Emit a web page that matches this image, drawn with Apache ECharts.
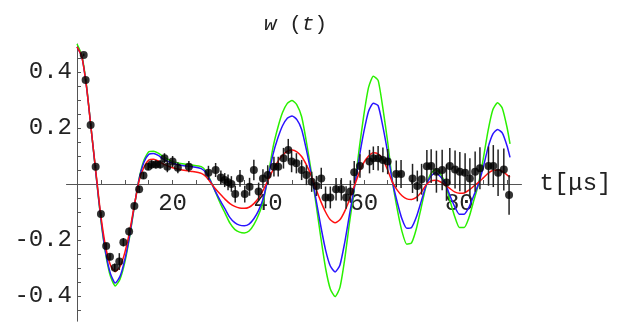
<!DOCTYPE html>
<html>
<head>
<meta charset="utf-8">
<script src="https://cdn.jsdelivr.net/npm/echarts@6/dist/echarts.min.js"></script>
<style>
  html, body { margin: 0; padding: 0; background: #fff; }
  #main { width: 623px; height: 322px; }
</style>
</head>
<body>
<div id="main"></div>
<script>
// curve samples (t in microseconds)
var curveT = [0,1,2,3,4,5,6,7,8,9,
  10,11,12,13,14,15,16,17,18,20,
  22,24,26,27,28,29,30,31,32,33,
  34,35,36,37,38,39,40,41,42,43,
  44,45,46,47,48,49,50,51,52,53,
  54,55,56,57,58,59,60,61,62,63,
  64,65,66,67,68,69,70,71,72,73,
  74,75,76,77,78,79,80,81,82,83,
  84,85,86,87,88,89,90,90.6];

var greenW = [0.50,0.46,0.35,0.19,0.03,-0.13,-0.25,-0.33,-0.364,-0.34,
  -0.28,-0.19,-0.08,0.02,0.085,0.115,0.117,0.11,0.098,0.08,
  0.072,0.068,0.062,0.045,0.01,-0.03,-0.07,-0.105,-0.14,-0.162,
  -0.172,-0.175,-0.168,-0.145,-0.11,-0.06,0.03,0.13,0.2,0.255,
  0.288,0.298,0.283,0.24,0.15,0.045,-0.07,-0.19,-0.3,-0.375,
  -0.402,-0.37,-0.27,-0.14,-0.02,0.12,0.245,0.345,0.385,0.37,
  0.27,0.15,0.01,-0.09,-0.17,-0.215,-0.21,-0.16,-0.085,-0.01,
  0.036,0.052,0.036,0.005,-0.057,-0.115,-0.155,-0.155,-0.12,-0.06,
  0.0,0.09,0.19,0.265,0.29,0.27,0.2,0.143];

var blueW = [0.49,0.455,0.345,0.19,0.03,-0.125,-0.245,-0.32,-0.354,-0.33,
  -0.27,-0.185,-0.078,0.018,0.078,0.106,0.109,0.102,0.09,0.074,
  0.066,0.062,0.055,0.04,0.008,-0.028,-0.06,-0.09,-0.12,-0.138,
  -0.147,-0.149,-0.143,-0.124,-0.094,-0.05,0.025,0.105,0.163,0.208,
  0.235,0.243,0.23,0.195,0.122,0.036,-0.055,-0.15,-0.235,-0.293,
  -0.314,-0.29,-0.21,-0.11,-0.015,0.09,0.185,0.26,0.288,0.28,
  0.205,0.112,0.008,-0.065,-0.125,-0.158,-0.155,-0.118,-0.063,-0.007,
  0.027,0.04,0.027,0.004,-0.04,-0.08,-0.108,-0.108,-0.083,-0.042,
  0.0,0.06,0.13,0.178,0.195,0.182,0.135,0.095];

var redW = [0.49,0.455,0.345,0.19,0.035,-0.115,-0.225,-0.29,-0.313,-0.295,
  -0.245,-0.17,-0.075,0.012,0.06,0.085,0.088,0.082,0.072,0.058,
  0.05,0.045,0.038,0.026,0.004,-0.018,-0.037,-0.055,-0.07,-0.08,
  -0.086,-0.087,-0.083,-0.07,-0.05,-0.02,0.015,0.05,0.08,0.103,
  0.117,0.121,0.115,0.098,0.068,0.03,-0.018,-0.062,-0.1,-0.128,
  -0.138,-0.128,-0.098,-0.056,-0.008,0.038,0.076,0.1,0.112,0.108,
  0.088,0.05,0.006,-0.022,-0.042,-0.053,-0.055,-0.048,-0.03,-0.004,
  0.01,0.013,0.008,-0.003,-0.016,-0.028,-0.033,-0.032,-0.022,-0.008,
  0.006,0.022,0.038,0.048,0.05,0.045,0.032,0.024];

// measured points with error bars
var ptT = [1.4,1.8,2.85,3.9,5.0, 6.1,6.9,7.9,8.85,9.7,
  10.9,12.0,13.0,13.9,14.9, 15.6,16.5,17.4,18.3,18.9,
  20.0,21.1,23.4,27.5,29.0, 30.1,30.9,31.6,32.3,33.1,
  34.1,35.1,36.1,37.0,38.0, 38.9,39.9,41.2,42.1,43.2,
  44.2,44.9,45.9,47.0,48.0, 49.1,50.1,51.1,52.0,53.0,
  54.2,55.3,56.3,57.2,58.0, 59.2,61.2,62.0,63.0,64.0,
  65.0,66.8,67.8,70.2,71.2, 72.1,73.2,74.1,75.2,76.4,
  77.3,78.0,79.1,80.1,81.2, 82.2,83.3,84.3,86.1,87.1,
  88.1,89.3,90.4];

var ptW = [0.461,0.371,0.211,0.062,-0.107, -0.221,-0.26,-0.299,-0.277,-0.208,
  -0.17,-0.079,-0.019,0.03,0.062, 0.07,0.07,0.07,0.092,0.062,
  0.08,0.058,0.062,0.04,0.05, 0.023,0.014,0.006,0.0,-0.036,
  0.02,-0.036,-0.01,0.05,-0.027, 0.02,0.032,0.062,0.062,0.092,
  0.121,0.08,0.074,0.05,0.032, 0.008,-0.007,0.02,-0.048,-0.048,
  -0.019,-0.019,-0.048,-0.027,0.042, 0.064,0.08,0.092,0.092,0.086,
  0.08,0.036,0.036,0.02,-0.007, 0.017,0.063,0.064,0.044,0.05,
  0.005,0.064,0.052,0.044,0.04, 0.02,0.044,0.056,0.064,0.064,
  0.04,0.052,-0.039];

var ptErr = [0.005,0.005,0.006,0.006,0.008, 0.01,0.012,0.015,0.03,0.015,
  0.015,0.012,0.012,0.012,0.012, 0.015,0.015,0.015,0.018,0.02,
  0.02,0.02,0.02,0.025,0.025, 0.025,0.025,0.028,0.028,0.03,
  0.03,0.03,0.032,0.037,0.032, 0.033,0.035,0.035,0.035,0.037,
  0.04,0.038,0.036,0.036,0.036, 0.036,0.036,0.038,0.039,0.039,
  0.04,0.04,0.04,0.04,0.04, 0.042,0.042,0.042,0.044,0.044,
  0.045,0.048,0.05,0.052,0.055, 0.055,0.058,0.06,0.075,0.072,
  0.065,0.065,0.068,0.07,0.07, 0.072,0.072,0.075,0.07,0.075,
  0.083,0.075,0.071];

var xTicks = [5,10,15,20,25,30,35,40,45,50,55,60,65,70,75,80,85,90];
var xLabels = [20,40,60,80];
var yTicks = [-0.45,-0.4,-0.35,-0.3,-0.25,-0.2,-0.15,-0.1,-0.05,0.05,0.1,0.15,0.2,0.25,0.3,0.35,0.4,0.45];
var yLabels = [-0.4,-0.2,0.2,0.4];

var mono = 'Liberation Mono';
var axisColor = '#555';

function pairs(xs, ys) {
  return xs.map(function (x, i) { return [x, ys[i]]; });
}

var myChart = echarts.init(document.getElementById('main'));

// axes cross at the origin: shift them there with offset
var gridLeft = 66.5, gridTop = 44, gridW = 455, gridH = 277.2;
var xMin = -2.2, xMax = 93, yMin = -0.49, yMax = 0.5;
var yAxisOffset = -(0 - xMin) / (xMax - xMin) * gridW;
var xAxisOffset = -(0 - yMin) / (yMax - yMin) * gridH;

var option = {
  animation: false,
  title: {
    text: '{i|w} ({i|t})',
    left: 259,
    top: 9,
    textStyle: {
      fontFamily: mono, fontSize: 21, fontWeight: 'normal', color: '#222',
      rich: { i: { fontFamily: mono, fontSize: 21, fontStyle: 'italic', color: '#222' } }
    }
  },
  grid: { left: gridLeft, top: gridTop, width: gridW, height: gridH, outerBoundsMode: 'none' },
  xAxis: {
    type: 'value', min: xMin, max: xMax, position: 'bottom', offset: xAxisOffset,
    axisLine: { onZero: false, lineStyle: { color: axisColor, width: 1 } },
    axisTick: { show: true, inside: true, length: 4, customValues: xTicks, lineStyle: { color: axisColor } },
    axisLabel: { customValues: xLabels, margin: 8, fontFamily: mono, fontSize: 24, color: '#222' },
    splitLine: { show: false },
    name: 't[μs]', nameLocation: 'end', nameGap: 18,
    nameTextStyle: { fontFamily: mono, fontSize: 24, color: '#222', verticalAlign: 'middle' }
  },
  yAxis: {
    type: 'value', min: yMin, max: yMax, position: 'left', offset: yAxisOffset,
    axisLine: { onZero: false, lineStyle: { color: axisColor, width: 1 } },
    axisTick: { show: true, inside: true, length: 4, customValues: yTicks, lineStyle: { color: axisColor } },
    axisLabel: {
      customValues: yLabels, margin: 5, fontFamily: mono, fontSize: 24, color: '#222',
      formatter: function (v) { return v.toFixed(1); }
    },
    splitLine: { show: false }
  },
  series: [
    { type: 'line', data: pairs(curveT, greenW), showSymbol: false, smooth: 0.2, z: 2,
      lineStyle: { color: '#2af000', width: 1.5 } },
    { type: 'line', data: pairs(curveT, blueW), showSymbol: false, smooth: 0.2, z: 2,
      lineStyle: { color: '#2a14ff', width: 1.5 } },
    { type: 'line', data: pairs(curveT, redW), showSymbol: false, smooth: 0.2, z: 2,
      lineStyle: { color: '#ff1010', width: 1.5 } },
    {
      type: 'custom', z: 3,
      data: ptT.map(function (t, i) { return [t, ptW[i], ptErr[i]]; }),
      encode: { x: 0, y: 1 },
      renderItem: function (params, api) {
        var t = api.value(0), w = api.value(1), e = api.value(2);
        var a = api.coord([t, w - e]);
        var b = api.coord([t, w + e]);
        return {
          type: 'line',
          shape: { x1: a[0], y1: a[1], x2: b[0], y2: b[1] },
          style: { stroke: '#222', lineWidth: 1.5 }
        };
      }
    },
    { type: 'scatter', data: pairs(ptT, ptW), symbol: 'circle', symbolSize: 8, z: 4,
      itemStyle: { color: '#000' } }
  ]
};

myChart.setOption(option);
</script>
</body>
</html>
